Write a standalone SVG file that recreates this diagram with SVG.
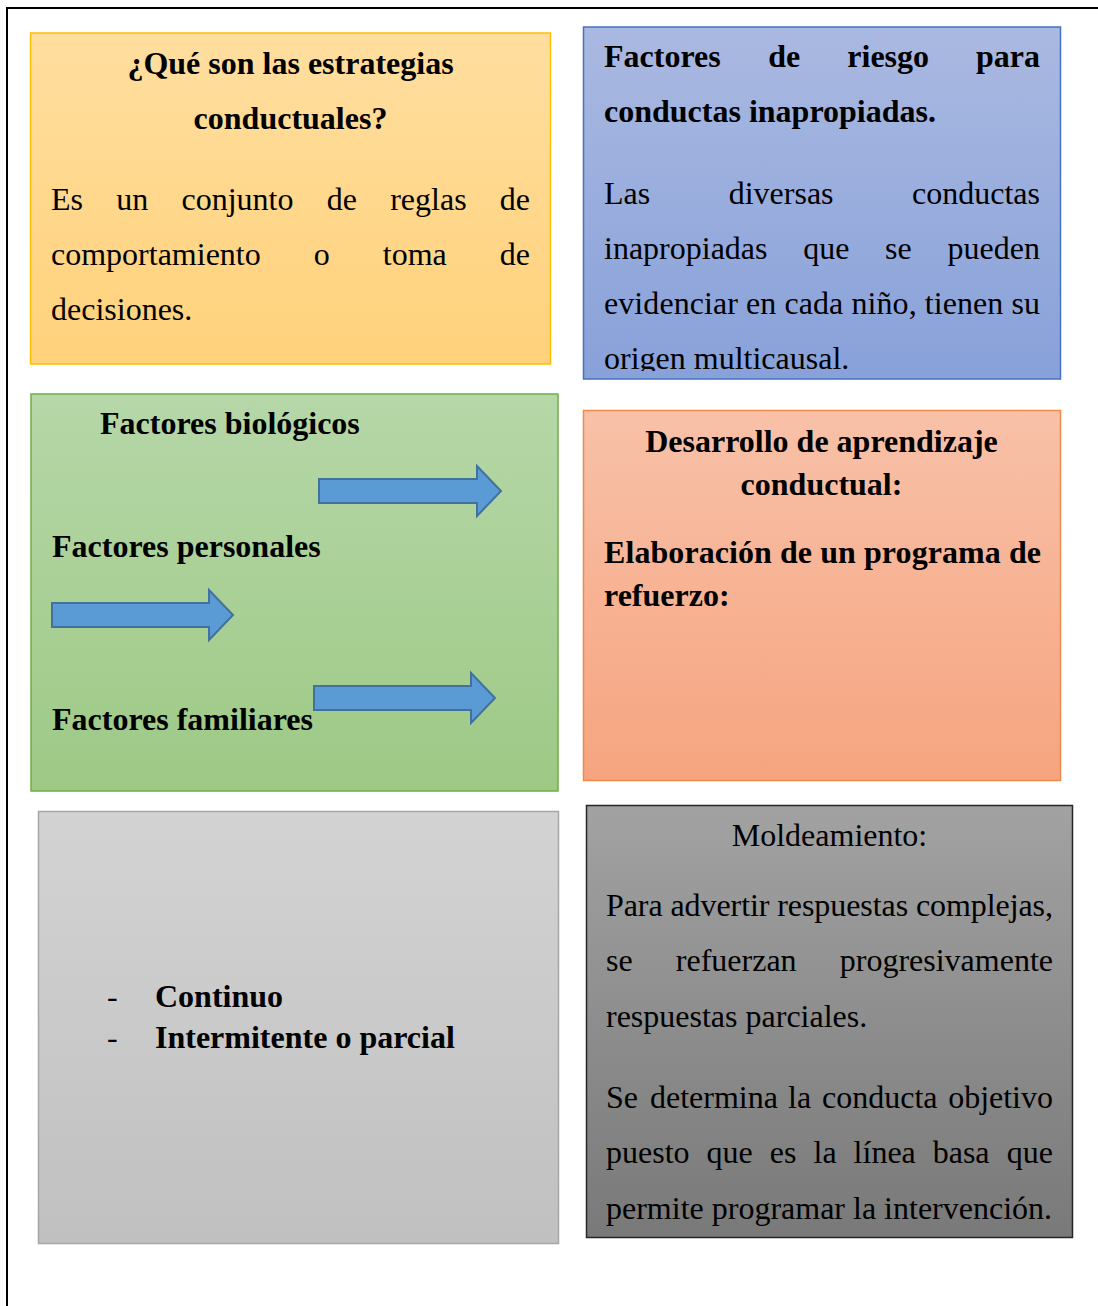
<svg xmlns="http://www.w3.org/2000/svg" width="1098" height="1306" viewBox="0 0 1098 1306">
<defs>
<linearGradient id="gY" x1="0" y1="0" x2="0" y2="1"><stop offset="0" stop-color="#FFDE9F"/><stop offset="1" stop-color="#FFD27B"/></linearGradient>
<linearGradient id="gB" x1="0" y1="0" x2="0" y2="1"><stop offset="0" stop-color="#AAB9E1"/><stop offset="1" stop-color="#88A1D9"/></linearGradient>
<linearGradient id="gG" x1="0" y1="0" x2="0" y2="1"><stop offset="0" stop-color="#B6D7A8"/><stop offset="1" stop-color="#9DC985"/></linearGradient>
<linearGradient id="gP" x1="0" y1="0" x2="0" y2="1"><stop offset="0" stop-color="#F8C1A8"/><stop offset="1" stop-color="#F6A47F"/></linearGradient>
<linearGradient id="gL" x1="0" y1="0" x2="0" y2="1"><stop offset="0" stop-color="#D3D3D3"/><stop offset="1" stop-color="#C0C0C0"/></linearGradient>
<linearGradient id="gD" x1="0" y1="0" x2="0" y2="1"><stop offset="0" stop-color="#A2A2A2"/><stop offset="1" stop-color="#797979"/></linearGradient>
<clipPath id="clipBlue"><rect x="584" y="28" width="476" height="343"/></clipPath>
</defs>
<style>
text{font-family:"Liberation Serif","Times New Roman",serif;font-size:32px;fill:#000}
.b{font-weight:bold}
.m{text-anchor:middle}
.e{text-anchor:end}
.arrow{fill:#5B9BD5;stroke:#41719C;stroke-width:2}
</style>
<rect width="1098" height="1306" fill="#fff"/>
<path d="M7,1306 V8 H1098" fill="none" stroke="#000" stroke-width="2"/>

<g id="node-estrategias">
<rect x="30.5" y="33" width="520" height="331" fill="url(#gY)" stroke="#FFC000" stroke-width="1.5"/>
<text class="b m" x="290.5" y="74">¿Qué son las estrategias</text>
<text class="b m" x="290.5" y="129">conductuales?</text>
<text y="210"><tspan x="51">Es</tspan><tspan x="116.2">un</tspan><tspan x="181.5">conjunto</tspan><tspan x="326.7">de</tspan><tspan x="390.2">reglas</tspan></text>
<text class="e" x="530" y="210">de</text>
<text y="265"><tspan x="51">comportamiento</tspan><tspan x="313.8">o</tspan><tspan x="382.8">toma</tspan></text>
<text class="e" x="530" y="265">de</text>
<text x="51" y="320">decisiones.</text>
</g>

<g id="node-factores-riesgo">
<rect x="583.5" y="27" width="477" height="352" fill="url(#gB)" stroke="#4472C4" stroke-width="1.5"/>
<text class="b" y="67"><tspan x="604">Factores</tspan><tspan x="768.3">de</tspan><tspan x="847.3">riesgo</tspan></text>
<text class="b e" x="1040" y="67">para</text>
<text class="b" x="604" y="122">conductas inapropiadas.</text>
<text y="204"><tspan x="604">Las</tspan><tspan x="728.7">diversas</tspan></text>
<text class="e" x="1040" y="204">conductas</text>
<text y="259"><tspan x="604">inapropiadas</tspan><tspan x="803.2">que</tspan><tspan x="885.1">se</tspan></text>
<text class="e" x="1040" y="259">pueden</text>
<text x="604" y="314" textLength="436" lengthAdjust="spacing">evidenciar en cada niño, tienen su</text>
<text x="604" y="369" clip-path="url(#clipBlue)">origen multicausal.</text>
</g>

<g id="node-factores">
<rect x="31" y="394" width="527" height="397" fill="url(#gG)" stroke="#70AD47" stroke-width="1.5"/>
<text class="b" x="100" y="434">Factores biológicos</text>
<text class="b" x="52" y="557">Factores personales</text>
<text class="b" x="52" y="730">Factores familiares</text>
</g>

<g id="arrows">
<polygon class="arrow" points="319,479 477,479 477,466 501,491 477,516 477,503 319,503"/>
<polygon class="arrow" points="52,603 209,603 209,590 233,615 209,640 209,627 52,627"/>
<polygon class="arrow" points="314,686 471,686 471,673 495,698 471,723 471,710 314,710"/>
</g>

<g id="node-desarrollo">
<rect x="583.5" y="410.5" width="477" height="370" fill="url(#gP)" stroke="#F08A4B" stroke-width="1.5"/>
<text class="b m" x="821.5" y="452">Desarrollo de aprendizaje</text>
<text class="b m" x="821.5" y="495">conductual:</text>
<text class="b" x="604" y="563" textLength="437" lengthAdjust="spacing">Elaboración de un programa de</text>
<text class="b" x="604" y="606">refuerzo:</text>
</g>

<g id="node-tipos">
<rect x="38.5" y="811.5" width="520" height="432" fill="url(#gL)" stroke="#A6A6A6" stroke-width="1.5"/>
<text x="107" y="1007">-</text>
<text class="b" x="155" y="1007">Continuo</text>
<text x="107" y="1048">-</text>
<text class="b" x="155" y="1048">Intermitente o parcial</text>
</g>

<g id="node-moldeamiento">
<rect x="586.5" y="805.5" width="486" height="432" fill="url(#gD)" stroke="#262626" stroke-width="1.5"/>
<text class="m" x="829.5" y="846">Moldeamiento:</text>
<text x="606" y="916" textLength="447" lengthAdjust="spacing">Para advertir respuestas complejas,</text>
<text y="971"><tspan x="606">se</tspan><tspan x="675.8">refuerzan</tspan></text>
<text class="e" x="1053" y="971">progresivamente</text>
<text x="606" y="1027">respuestas parciales.</text>
<text y="1108"><tspan x="606">Se</tspan><tspan x="650">determina</tspan><tspan x="788">la</tspan><tspan x="822">conducta</tspan></text>
<text class="e" x="1053" y="1108">objetivo</text>
<text y="1163"><tspan x="606">puesto</tspan><tspan x="706.6">que</tspan><tspan x="769.7">es</tspan><tspan x="813.5">la</tspan><tspan x="853.6">línea</tspan><tspan x="932.7">basa</tspan></text>
<text class="e" x="1053" y="1163">que</text>
<text x="606" y="1219">permite programar la intervención.</text>
</g>
</svg>
